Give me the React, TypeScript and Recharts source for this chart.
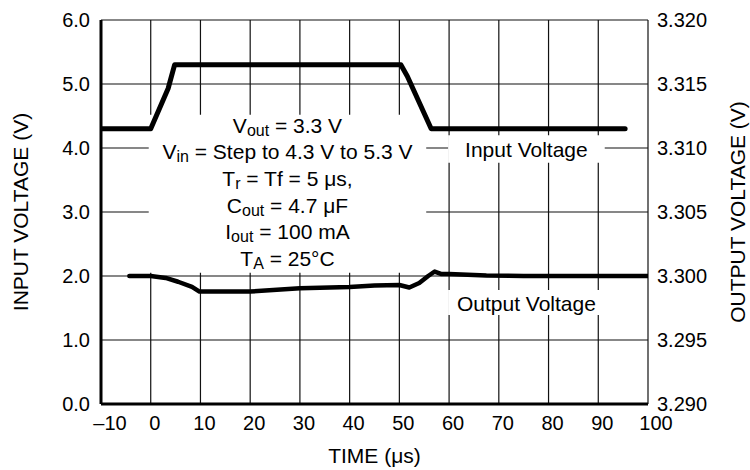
import { CartesianGrid, Line, LineChart, ReferenceArea, XAxis, YAxis } from "recharts"

// input step, left axis (V)
const inputTime = [-10, 0, 3.5, 4.8, 50.3, 51.6, 56.4, 95.4]
const inputVolts = [4.3, 4.3, 4.93, 5.3, 5.3, 5.12, 4.3, 4.3]

// output response, right axis (V)
const outputTime = [-4.3, 0, 3, 5.5, 8.3, 9.8, 20, 30, 40, 45, 50, 52, 54, 55.8, 57.1, 58.5, 60, 67.5, 75, 100]
const outputVolts = [
  3.3, 3.3, 3.29985, 3.29955, 3.29915, 3.29878, 3.29878, 3.29905, 3.29915, 3.29925, 3.2993, 3.2991, 3.29945, 3.3,
  3.30035, 3.30015, 3.30015, 3.30003, 3.3, 3.3,
]

const timeTicks = [-10, 0, 10, 20, 30, 40, 50, 60, 70, 80, 90, 100]
const inputTicks = [0, 1, 2, 3, 4, 5, 6]
const outputTicks = [3.29, 3.295, 3.3, 3.305, 3.31, 3.315, 3.32]

const inputData = inputTime.map((t, i) => ({ t, v: inputVolts[i] }))
const outputData = outputTime.map((t, i) => ({ t, v: outputVolts[i] }))

const FONT = "'Liberation Sans', Arial, Helvetica, sans-serif"
const INK = "#000"
const TEXT_SIZE = 21

function TimeTick({ x, y, payload }: any) {
  const v = payload.value
  const shift = v === -10 ? 9 : v === 100 ? 8 : 4
  const text = v < 0 ? `–${Math.abs(v)}` : `${v}`
  return (
    <text x={x + shift} y={y} dy="0.71em" textAnchor="middle" fontSize={20} fontFamily={FONT} fill={INK}>
      {text}
    </text>
  )
}

function Sub({ main, sub, rest }: { main: string; sub: string; rest: string }) {
  return (
    <>
      <tspan>{main}</tspan>
      <tspan fontSize={16} dy={5}>
        {sub}
      </tspan>
      <tspan dy={-5}>{rest}</tspan>
    </>
  )
}

function Conditions({ viewBox }: any) {
  const cx = viewBox.x + viewBox.width / 2
  const top = viewBox.y + 10
  const step = 26.6
  const lines = [
    <Sub main="V" sub="out" rest=" = 3.3 V" />,
    <Sub main="V" sub="in" rest=" = Step to 4.3 V to 5.3 V" />,
    <Sub main="T" sub="r" rest=" = Tf = 5 μs," />,
    <Sub main="C" sub="out" rest=" = 4.7 μF" />,
    <Sub main="I" sub="out" rest=" = 100 mA" />,
    <Sub main="T" sub="A" rest=" = 25°C" />,
  ]
  return (
    <g>
      {lines.map((l, i) => (
        <text
          key={i}
          x={cx}
          y={top + i * step}
          textAnchor="middle"
          dominantBaseline="central"
          fontSize={TEXT_SIZE}
          fontFamily={FONT}
          fill={INK}
        >
          {l}
        </text>
      ))}
    </g>
  )
}

function BoxText({ viewBox, text }: any) {
  return (
    <text
      x={viewBox.x + viewBox.width / 2}
      y={viewBox.y + viewBox.height / 2 + 1}
      textAnchor="middle"
      dominantBaseline="central"
      fontSize={TEXT_SIZE}
      fontFamily={FONT}
      fill={INK}
    >
      {text}
    </text>
  )
}

function AxisTitle({ viewBox, value, side }: any) {
  if (side === "bottom") {
    return (
      <text
        x={viewBox.x + viewBox.width / 2}
        y={viewBox.y + 51}
        textAnchor="middle"
        dominantBaseline="central"
        fontSize={TEXT_SIZE}
        fontFamily={FONT}
        fill={INK}
      >
        {value}
      </text>
    )
  }
  const x = side === "left" ? viewBox.x + 20 : viewBox.x + viewBox.width - 12.5
  const y = viewBox.y + viewBox.height / 2
  return (
    <text
      x={x}
      y={y}
      transform={`rotate(-90, ${x}, ${y})`}
      textAnchor="middle"
      dominantBaseline="central"
      fontSize={TEXT_SIZE}
      fontFamily={FONT}
      fill={INK}
    >
      {value}
    </text>
  )
}

export default function App() {
  return (
    <div style={{ position: "absolute", left: 0, top: 0, width: 750, height: 470, background: "#fff" }}>
      <LineChart width={750} height={470} margin={{ top: 20, right: 0, bottom: 0, left: 0 }}>
        <CartesianGrid yAxisId="left" stroke="#111" strokeWidth={1.2} />
        <XAxis
          dataKey="t"
          type="number"
          domain={[-10, 100]}
          ticks={timeTicks}
          height={66}
          allowDataOverflow
          tickLine={false}
          tickSize={6}
          tickMargin={6}
          tick={<TimeTick />}
          axisLine={{ stroke: INK, strokeWidth: 3 }}
          label={(p: any) => <AxisTitle {...p} value="TIME (μs)" side="bottom" />}
        />
        <YAxis
          yAxisId="left"
          orientation="left"
          type="number"
          domain={[0, 6]}
          ticks={inputTicks}
          width={101}
          tickLine={false}
          tickSize={6}
          tickMargin={5}
          tickFormatter={(v: number) => v.toFixed(1)}
          tick={{ fontSize: 20, fontFamily: FONT, fill: INK }}
          axisLine={{ stroke: INK, strokeWidth: 3 }}
          label={(p: any) => <AxisTitle {...p} value="INPUT VOLTAGE (V)" side="left" />}
        />
        <YAxis
          yAxisId="right"
          orientation="right"
          type="number"
          domain={[3.29, 3.32]}
          ticks={outputTicks}
          width={102}
          tickLine={false}
          tickSize={6}
          tickMargin={3}
          tickFormatter={(v: number) => v.toFixed(3)}
          tick={{ fontSize: 20, fontFamily: FONT, fill: INK }}
          axisLine={false}
          label={(p: any) => <AxisTitle {...p} value="OUTPUT VOLTAGE (V)" side="right" />}
        />
        <ReferenceArea
          yAxisId="left"
          x1={-0.4}
          x2={55.4}
          y1={2.05}
          y2={4.52}
          fill="#fff"
          fillOpacity={1}
          stroke="none"
          label={(p: any) => <Conditions {...p} />}
        />
        <ReferenceArea
          yAxisId="left"
          x1={59.8}
          x2={91.3}
          y1={3.77}
          y2={4.2}
          fill="#fff"
          fillOpacity={1}
          stroke="none"
          label={(p: any) => <BoxText {...p} text="Input Voltage" />}
        />
        <ReferenceArea
          yAxisId="left"
          x1={59.8}
          x2={91.3}
          y1={1.39}
          y2={1.78}
          fill="#fff"
          fillOpacity={1}
          stroke="none"
          label={(p: any) => <BoxText {...p} text="Output Voltage" />}
        />
        <Line
          yAxisId="left"
          data={inputData}
          dataKey="v"
          type="linear"
          stroke={INK}
          strokeWidth={5}
          strokeLinecap="round"
          strokeLinejoin="round"
          dot={false}
          activeDot={false}
          isAnimationActive={false}
        />
        <Line
          yAxisId="right"
          data={outputData}
          dataKey="v"
          type="linear"
          stroke={INK}
          strokeWidth={4.5}
          strokeLinecap="round"
          strokeLinejoin="round"
          dot={false}
          activeDot={false}
          isAnimationActive={false}
        />
      </LineChart>
    </div>
  )
}
